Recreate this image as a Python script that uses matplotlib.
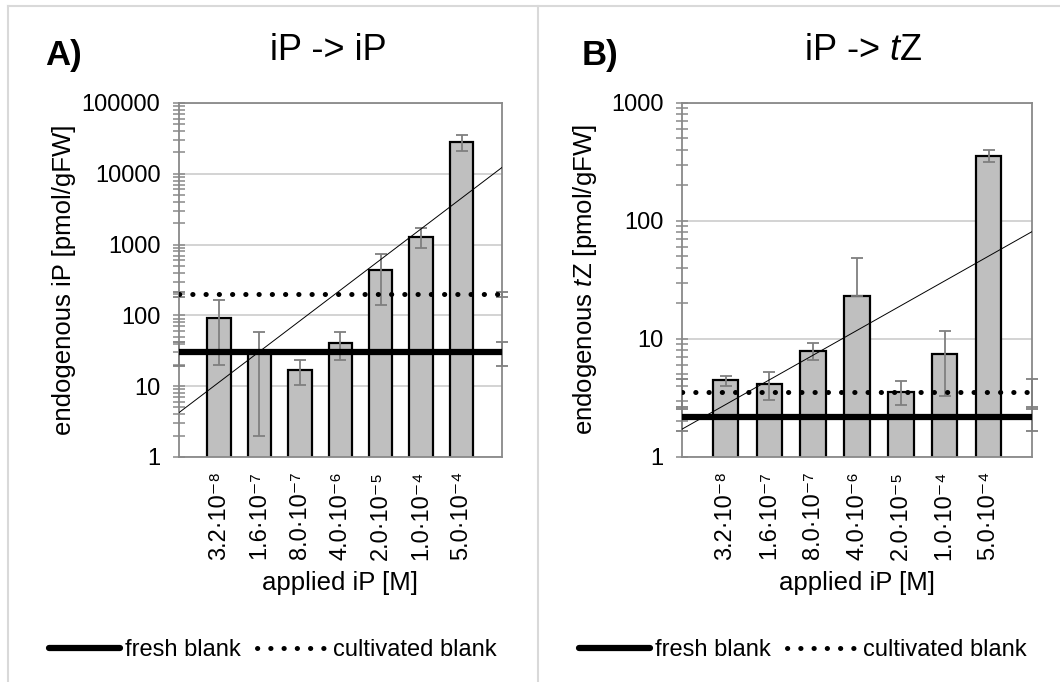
import numpy as np
import matplotlib
matplotlib.use('Agg')
import matplotlib.pyplot as plt
from matplotlib.lines import Line2D
from matplotlib.ticker import LogLocator, FuncFormatter

plt.rcParams['font.family'] = ['Liberation Sans', 'DejaVu Sans']
plt.rcParams['mathtext.fontset'] = 'custom'
plt.rcParams['mathtext.rm'] = 'Liberation Sans'
plt.rcParams['mathtext.it'] = 'Liberation Sans:italic'

# applied concentrations (category axis)
conc_labels = ['3.2·10⁻⁸', '1.6·10⁻⁷', '8.0·10⁻⁷', '4.0·10⁻⁶',
               '2.0·10⁻⁵', '1.0·10⁻⁴', '5.0·10⁻⁴']

# A) iP -> iP
ip_mean = [93, 30, 16.8, 40.7, 438, 1294, 28400]
ip_sd = [73, 28, 6.5, 17.5, 300, 410, 7100]
ip_fresh, ip_fresh_sd = 30.7, 11.5
ip_cult, ip_cult_sd = 200, 16

# B) iP -> tZ
tz_mean = [4.46, 4.15, 7.94, 23.1, 3.55, 7.5, 356]
tz_sd = [0.43, 1.14, 1.27, 25.6, 0.82, 4.23, 41]
tz_fresh, tz_fresh_sd = 2.17, 0.5
tz_cult, tz_cult_sd = 3.55, 1.02

grey_err = '#7f7f7f'
dot_style = (0, (0.05, 2.6))

fig = plt.figure(figsize=(10.6, 6.82), dpi=100)


def panel(rect, mean, sd, fresh, fresh_sd, cult, cult_sd, ymax, ylabel, ylab_x):
    ax = fig.add_axes(rect)
    x = np.arange(1, len(mean) + 1)
    mean = np.array(mean, float)
    sd = np.array(sd, float)
    ax.bar(x, mean, width=0.58, color='#bfbfbf', edgecolor='black',
           linewidth=1.6, zorder=2)
    # Excel drops the lower whisker if it would go below zero
    lo = np.where(sd < mean, sd, 0)
    ax.errorbar(x, mean, yerr=[lo, sd], fmt='none', ecolor=grey_err,
                elinewidth=1.3, capsize=4.5, capthick=1.3, zorder=3)
    # exponential trendline through the bars
    k, b = np.polyfit(x, np.log10(mean), 1)
    xt = np.array([0, 8])
    ax.plot(xt, 10 ** (k * xt + b), color='black', lw=0.7, zorder=4)
    # blanks
    xb = np.array([0, 8])
    ax.plot(xb, [fresh, fresh], color='black', lw=4.5, zorder=5,
            solid_capstyle='butt')
    ax.plot(xb, [cult, cult], color='black', lw=3.6, ls=dot_style,
            dash_capstyle='round', zorder=5)
    ax.errorbar(xb, [fresh, fresh], yerr=fresh_sd, fmt='none', ecolor=grey_err,
                elinewidth=1.3, capsize=4.5, capthick=1.3, zorder=3, clip_on=False)
    ax.errorbar(xb, [cult, cult], yerr=cult_sd, fmt='none', ecolor=grey_err,
                elinewidth=1.3, capsize=4.5, capthick=1.3, zorder=3, clip_on=False)

    ax.set_yscale('log')
    ax.set_ylim(1, ymax)
    ax.set_xlim(0, 8)
    ax.yaxis.set_major_locator(LogLocator(base=10, numticks=10))
    ax.yaxis.set_minor_locator(LogLocator(base=10, subs=np.arange(2, 10), numticks=10))
    ax.yaxis.set_major_formatter(FuncFormatter(lambda v, p: '%d' % round(v)))
    ax.yaxis.set_minor_formatter(FuncFormatter(lambda v, p: ''))
    ax.grid(axis='y', which='major', color='#d0d0d0', lw=1.3, zorder=0)
    ax.set_axisbelow(True)
    for s in ax.spines.values():
        s.set_color('#898989')
        s.set_linewidth(1.3)
    ax.tick_params(axis='y', which='both', direction='inout', length=8,
                   width=1.1, color='#898989', labelsize=17, pad=9)
    ax.tick_params(axis='x', length=0, labelsize=17, pad=10)
    ax.set_xticks(x)
    ax.set_xticklabels(conc_labels, rotation=90)
    ax.set_xlabel('applied iP [M]', fontsize=18.5, labelpad=8)
    ax.set_ylabel(ylabel, fontsize=18.5, va='center')
    ax.yaxis.set_label_coords(ylab_x, 0.5)
    return ax


axA = panel([0.1684, 0.330, 0.3052, 0.519], ip_mean, ip_sd, ip_fresh, ip_fresh_sd,
            ip_cult, ip_cult_sd, 100000, 'endogenous iP [pmol/gFW]', -0.354)
axB = panel([0.6431, 0.330, 0.3308, 0.519], tz_mean, tz_sd, tz_fresh, tz_fresh_sd,
            tz_cult, tz_cult_sd, 1000, r'endogenous $\mathit{t}$Z [pmol/gFW]', -0.276)

fig.text(45 / 1060, 1 - 55 / 682, 'A)', fontsize=25, fontweight='bold', va='center')
fig.text(582 / 1060, 1 - 55 / 682, 'B)', fontsize=25, fontweight='bold', va='center')
fig.text(328 / 1060, 1 - 50 / 682, 'iP -> iP', fontsize=26, ha='center', va='center')
fig.text(863 / 1060, 1 - 50 / 682, r'iP -> $\mathit{t}$Z', fontsize=26,
         ha='center', va='center')

# panel borders
for xs, ys in [([8, 8], [0, 676]), ([538, 538], [0, 676]), ([8, 1060], [676, 676])]:
    fig.add_artist(Line2D(np.array(xs) / 1060, np.array(ys) / 682,
                          color='#d9d9d9', lw=1.5))

handles = [Line2D([], [], color='black', lw=4.5, solid_capstyle='round'),
           Line2D([], [], color='black', lw=3.6, ls=dot_style, dash_capstyle='round')]
names = ['fresh blank', 'cultivated blank']
for cx in (273, 803):
    fig.legend(handles, names, loc='center', bbox_to_anchor=(cx / 1060, 1 - 650 / 682),
               ncol=2, frameon=False, fontsize=17, handlelength=3.0,
               handletextpad=0.2, columnspacing=0.7)

fig.savefig('out.png', dpi=100)
